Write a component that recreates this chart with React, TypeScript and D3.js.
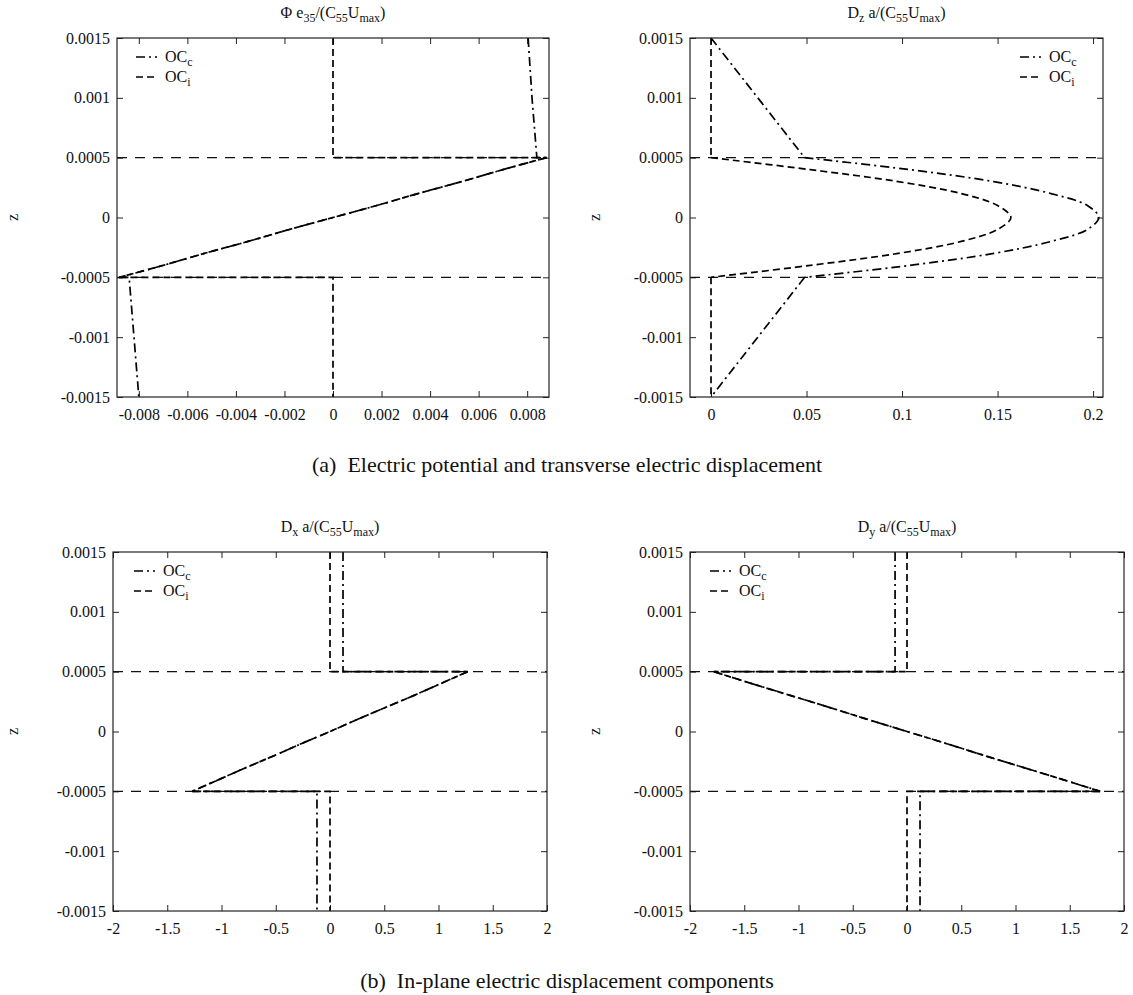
import React, { useRef, useEffect } from 'react';
import * as d3 from 'd3';

// thickness coordinate
const zTicks = [0.0015, 0.001, 0.0005, 0, -0.0005, -0.001, -0.0015];
const interfaces = [0.0005, -0.0005];
const zTop = [0.0015, 0.001, 0.0005];
const zBot = [-0.0005, -0.001, -0.0015];
const zCore = [0.0005, 0.0004, 0.0003, 0.0002, 0.0001, 0, -0.0001, -0.0002, -0.0003, -0.0004, -0.0005];

// (a) left: electric potential
const phiTicks = [-0.008, -0.006, -0.004, -0.002, 0, 0.002, 0.004, 0.006, 0.008];
const phiCTop = [0.00804, 0.0082, 0.0084];
const phiCCore = [0.0088, 0.0070, 0.0053, 0.0035, 0.0018, 0, -0.0018, -0.0035, -0.0053, -0.0070, -0.0088];
const phiCBot = [-0.0084, -0.0082, -0.0080];
const phiITop = [0, 0, 0];
const phiICore = [0.0088, 0.0070, 0.0053, 0.0035, 0.0018, 0, -0.0018, -0.0035, -0.0053, -0.0070, -0.0088];
const phiIBot = [0, 0, 0];

// (a) right: transverse displacement
const dzTicks = [0, 0.05, 0.1, 0.15, 0.2];
const dzCTop = [0, 0.0245, 0.049];
const dzCCore = [0.049, 0.104, 0.148, 0.178, 0.197, 0.203, 0.197, 0.178, 0.148, 0.104, 0.049];
const dzCBot = [0.049, 0.0245, 0];
const dzITop = [0, 0, 0];
const dzICore = [0, 0.052, 0.098, 0.131, 0.150, 0.157, 0.150, 0.131, 0.098, 0.052, 0];
const dzIBot = [0, 0, 0];

// (b) in-plane components
const inPlaneTicks = [-2, -1.5, -1, -0.5, 0, 0.5, 1, 1.5, 2];
const dxCTop = [0.12, 0.12, 0.12];
const dxCCore = [1.27, 1.02, 0.77, 0.51, 0.25, 0, -0.26, -0.51, -0.77, -1.02, -1.27];
const dxCBot = [-0.12, -0.12, -0.12];
const dxITop = [0, 0, 0];
const dxICore = [1.27, 1.02, 0.77, 0.51, 0.25, 0, -0.26, -0.51, -0.77, -1.02, -1.27];
const dxIBot = [0, 0, 0];

const dyCTop = [-0.11, -0.11, -0.11];
const dyCCore = [-1.78, -1.43, -1.07, -0.71, -0.36, 0, 0.36, 0.71, 1.07, 1.43, 1.78];
const dyCBot = [0.12, 0.12, 0.12];
const dyITop = [0, 0, 0];
const dyICore = [-1.78, -1.43, -1.07, -0.71, -0.36, 0, 0.36, 0.71, 1.07, 1.43, 1.78];
const dyIBot = [0, 0, 0];

const legendLabels = [['OC', 'c'], ['OC', 'i']];
const captions = ['(a)  Electric potential and transverse electric displacement', '(b)  In-plane electric displacement components'];

const FONT = '"Liberation Serif", "Times New Roman", Times, serif';
const dashC = '9,4,2,4';
const dashI = '7,4';

type Part = [string, boolean];

const richText = (sel: any, parts: Part[], subSize: number) => {
    let prevSub = false;
    parts.forEach(([t, sub]) => {
        const ts = sel.append('tspan').text(t);
        if (sub) ts.attr('font-size', subSize);
        if (sub && !prevSub) ts.attr('dy', 4);
        if (!sub && prevSub) ts.attr('dy', -4);
        prevSub = sub;
    });
};

const title = (v: string, sub: string): Part[] => [[v, false], [sub, true], [' a/(C', false], ['55', true], ['U', false], ['max', true], [')', false]];

const panels = [
    {
        left: 117, right: 549, top: 38, bottom: 397, zLabelX: 12,
        xDomain: [-0.0089, 0.0089], xTicks: phiTicks,
        title: [['\u03A6 e', false], ['35', true], ['/(C', false], ['55', true], ['U', false], ['max', true], [')', false]] as Part[],
        c: [phiCTop, phiCCore, phiCBot], i: [phiITop, phiICore, phiIBot],
        legendX: 136,
    },
    {
        left: 690, right: 1103, top: 38, bottom: 397, zLabelX: 594,
        xDomain: [-0.011, 0.2052], xTicks: dzTicks,
        title: title('D', 'z'),
        c: [dzCTop, dzCCore, dzCBot], i: [dzITop, dzICore, dzIBot],
        legendX: 1020,
    },
    {
        left: 113, right: 547, top: 552, bottom: 911, zLabelX: 12,
        xDomain: [-2, 2], xTicks: inPlaneTicks,
        title: title('D', 'x'),
        c: [dxCTop, dxCCore, dxCBot], i: [dxITop, dxICore, dxIBot],
        legendX: 134,
    },
    {
        left: 690, right: 1124, top: 552, bottom: 911, zLabelX: 594,
        xDomain: [-2, 2], xTicks: inPlaneTicks,
        title: title('D', 'y'),
        c: [dyCTop, dyCCore, dyCBot], i: [dyITop, dyICore, dyIBot],
        legendX: 710,
    },
];

const App = () => {
    const ref = useRef<SVGSVGElement>(null);

    useEffect(() => {
        if (!ref.current) return;
        const svg = d3.select(ref.current);
        svg.selectAll('*').remove();
        svg.append('rect').attr('width', 1133).attr('height', 995).attr('fill', '#fff');

        panels.forEach((p) => {
            const g = svg.append('g');
            const x = d3.scaleLinear().domain(p.xDomain).range([p.left, p.right]);
            const y = d3.scaleLinear().domain([-0.0015, 0.0015]).range([p.bottom, p.top]);

            const fmt = (d: any) => String(d);
            const styleAxis = (a: any) => {
                a.select('.domain').remove();
                a.attr('font-family', FONT).attr('font-size', 16);
                a.selectAll('line').attr('stroke', '#222');
                a.selectAll('text').attr('fill', '#111');
            };

            g.append('g').attr('transform', `translate(0,${p.bottom})`)
                .call(d3.axisBottom(x).tickValues(p.xTicks).tickSizeInner(-6).tickSizeOuter(0).tickPadding(12).tickFormat(fmt))
                .call(styleAxis);
            g.append('g').attr('transform', `translate(0,${p.top})`)
                .call(d3.axisTop(x).tickValues(p.xTicks).tickSizeInner(-6).tickSizeOuter(0).tickFormat(() => ''))
                .call(styleAxis);
            g.append('g').attr('transform', `translate(${p.left},0)`)
                .call(d3.axisLeft(y).tickValues(zTicks).tickSizeInner(-6).tickSizeOuter(0).tickPadding(7).tickFormat(fmt))
                .call(styleAxis);
            g.append('g').attr('transform', `translate(${p.right},0)`)
                .call(d3.axisRight(y).tickValues(zTicks).tickSizeInner(-6).tickSizeOuter(0).tickFormat(() => ''))
                .call(styleAxis);

            // layer interfaces
            g.selectAll(null).data(interfaces).enter().append('line')
                .attr('x1', p.left).attr('x2', p.right)
                .attr('y1', d => y(d)).attr('y2', d => y(d))
                .attr('stroke', '#111').attr('stroke-width', 1.2)
                .attr('stroke-dasharray', '10,8');

            const straight = d3.line<[number, number]>().x(d => x(d[0])).y(d => y(d[1]));
            const curved = d3.line<[number, number]>().x(d => x(d[0])).y(d => y(d[1])).curve(d3.curveCatmullRom);

            const drawSeries = (vals: number[][], dash: string) => {
                const top = vals[0].map((v, k) => [v, zTop[k]] as [number, number]);
                const core = vals[1].map((v, k) => [v, zCore[k]] as [number, number]);
                const bot = vals[2].map((v, k) => [v, zBot[k]] as [number, number]);
                const paths = [
                    straight([...top, core[0]]),
                    curved(core),
                    straight([core[core.length - 1], ...bot]),
                ];
                paths.forEach(d => {
                    g.append('path').attr('d', d).attr('fill', 'none')
                        .attr('stroke', '#000').attr('stroke-width', 1.7)
                        .attr('stroke-dasharray', dash);
                });
            };
            drawSeries(p.i, dashI);
            drawSeries(p.c, dashC);

            // border
            g.append('rect').attr('x', p.left).attr('y', p.top)
                .attr('width', p.right - p.left).attr('height', p.bottom - p.top)
                .attr('fill', 'none').attr('stroke', '#222').attr('stroke-width', 1.2);

            // title
            const t = g.append('text').attr('x', (p.left + p.right) / 2).attr('y', p.top - 20)
                .attr('text-anchor', 'middle').attr('font-family', FONT).attr('font-size', 16).attr('fill', '#111');
            richText(t, p.title, 12);

            // z label
            g.append('text').attr('transform', `translate(${p.zLabelX},${(p.top + p.bottom) / 2}) rotate(-90)`)
                .attr('text-anchor', 'middle').attr('dy', '0.35em')
                .attr('font-family', FONT).attr('font-size', 16).attr('fill', '#111').text('z');

            // legend
            const dashes = [dashC, dashI];
            legendLabels.forEach((lab, k) => {
                const ly = p.top + 19 + k * 20;
                g.append('line').attr('x1', p.legendX).attr('x2', p.legendX + 21)
                    .attr('y1', ly).attr('y2', ly)
                    .attr('stroke', '#000').attr('stroke-width', 1.7).attr('stroke-dasharray', dashes[k]);
                const lt = g.append('text').attr('x', p.legendX + 29).attr('y', ly + 5)
                    .attr('font-family', FONT).attr('font-size', 16).attr('fill', '#111');
                richText(lt, [[lab[0], false], [lab[1], true]], 12);
            });
        });

        // captions
        svg.selectAll(null).data(captions).enter().append('text')
            .attr('x', 567).attr('y', (d, k) => (k === 0 ? 472 : 988))
            .attr('text-anchor', 'middle').attr('font-family', FONT).attr('font-size', 22)
            .attr('fill', '#111').attr('xml:space', 'preserve')
            .style('white-space', 'pre')
            .text(d => d);
    }, []);

    return (
        <svg ref={ref} width={1133} height={995}
            style={{ position: 'absolute', left: 0, top: 0, display: 'block' }} />
    );
};

export default App;
